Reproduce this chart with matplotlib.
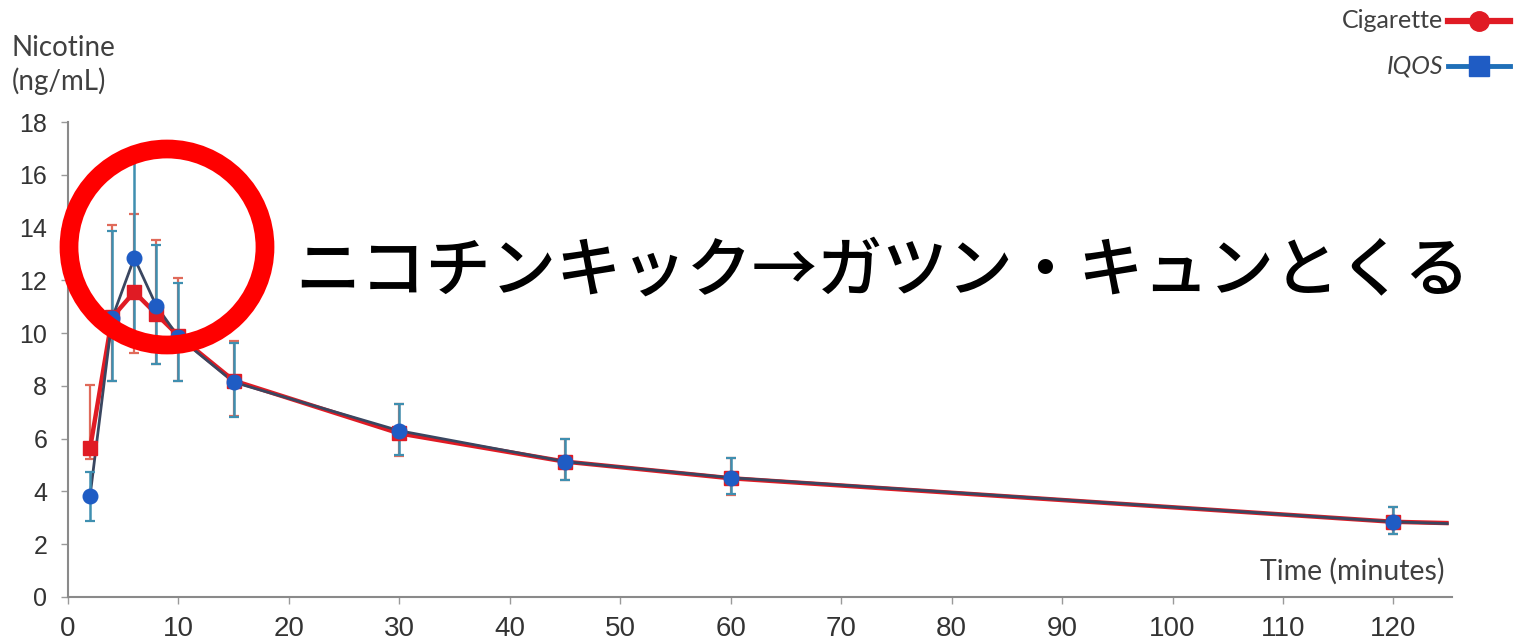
import matplotlib
matplotlib.use("Agg")
import matplotlib.pyplot as plt
from matplotlib.patches import Ellipse
from matplotlib.lines import Line2D

# Plasma nicotine concentration (ng/mL) after use, by sampling time (minutes)
time_min = [2, 4, 6, 8, 10, 15, 30, 45, 60, 120]

cig_mean = [5.63, 10.6, 11.56, 10.72, 9.9, 8.2, 6.2, 5.13, 4.5, 2.85]
cig_err_lo = [0.4, 2.4, 2.3, 1.9, 1.7, 1.35, 0.85, 0.68, 0.62, 0.45]
cig_err_hi = [2.4, 3.5, 2.95, 2.8, 2.2, 1.5, 1.1, 0.84, 0.78, 0.57]

iqos_mean = [3.84, 10.57, 12.85, 11.03, 9.85, 8.14, 6.3, 5.13, 4.52, 2.85]
iqos_err_lo = [0.95, 2.4, 2.9, 2.2, 1.65, 1.3, 0.9, 0.68, 0.62, 0.45]
iqos_err_hi = [0.9, 3.3, 3.75, 2.3, 2.05, 1.5, 1.0, 0.84, 0.76, 0.57]

# Both curves are carried on a little past the last sample
tail_time = 125
cig_tail = 2.8
iqos_tail = 2.78

x_ticks = list(range(0, 121, 10))
y_ticks = list(range(0, 19, 2))

series_names = ["Cigarette", "IQOS"]
x_label = "Time (minutes)"
headline = "ニコチンキック→ガツン・キュンとくる"

RED = "#e01b24"
BLUE = "#1f5cc4"
DARK = "#3a4660"
TEAL = "#3f8fb0"
GRAY = "#404040"

W, H, DPI = 1519, 640, 100
fig = plt.figure(figsize=(W / DPI, H / DPI), dpi=DPI)
fig.patch.set_facecolor("white")
ax = fig.add_axes([68 / W, 1 - 597 / H, (1452 - 68) / W, (597 - 122) / H])

# Cigarette: red line with red squares
ax.plot(time_min + [tail_time], cig_mean + [cig_tail], color=RED, lw=3.2,
        zorder=3, solid_capstyle="butt")
ax.errorbar(time_min, cig_mean, yerr=[cig_err_lo, cig_err_hi], fmt="none",
            ecolor="#e06a5a", elinewidth=1.6, capsize=3.5, capthick=1.6,
            zorder=2)
ax.plot(time_min, cig_mean, ls="none", marker="s", ms=10, color=RED,
        mec=RED, zorder=5)

# IQOS: dark line with blue circles
ax.plot(time_min + [tail_time], iqos_mean + [iqos_tail], color=DARK, lw=2.0,
        zorder=4, solid_capstyle="butt")
ax.errorbar(time_min, iqos_mean, yerr=[iqos_err_lo, iqos_err_hi], fmt="none",
            ecolor=TEAL, elinewidth=1.8, capsize=3.5, capthick=1.6, zorder=4)
ax.plot(time_min, iqos_mean, ls="none", marker="o", ms=10.5, color=BLUE,
        mec=BLUE, zorder=6)

ax.set_xlim(0, 125.3)
ax.set_ylim(0, 18)
ax.set_xticks(x_ticks)
ax.set_yticks(y_ticks)
for side in ("top", "right"):
    ax.spines[side].set_visible(False)
for side in ("left", "bottom"):
    ax.spines[side].set_color("#8a8a8a")
    ax.spines[side].set_linewidth(1.5)
ax.tick_params(axis="both", colors="#9a9a9a", length=5, width=1,
               labelcolor="#333333")
ax.tick_params(axis="y", pad=10, labelsize=18)
ax.tick_params(axis="x", pad=9, labelsize=20)
for lab in ax.get_xticklabels() + ax.get_yticklabels():
    lab.set_family("Liberation Sans")

fig.text(12 / W, 1 - 48 / H, "Nicotine", ha="left", va="center",
         fontsize=20, color=GRAY, family="Lato")
fig.text(12 / W, 1 - 81 / H, "(ng/mL)", ha="left", va="center",
         fontsize=20, color=GRAY, family="Lato")
fig.text(1445 / W, 1 - 571 / H, x_label, ha="right", va="center",
         fontsize=20.5, color=GRAY, family="Lato")

# Legend drawn at the top right
fig.text(1443 / W, 1 - 21 / H, series_names[0], ha="right", va="center",
         fontsize=18, color=GRAY, family="Lato")
fig.text(1443 / W, 1 - 66 / H, series_names[1], ha="right", va="center",
         fontsize=18, color=GRAY, family="Lato", style="italic")
fig.add_artist(Line2D([1448 / W, 1510 / W], [1 - 21 / H, 1 - 21 / H],
                      transform=fig.transFigure, color=RED, lw=4.5))
fig.add_artist(Line2D([1479 / W], [1 - 21 / H], transform=fig.transFigure,
                      ls="none", marker="o", ms=14, color=RED))
fig.add_artist(Line2D([1448 / W, 1510 / W], [1 - 66 / H, 1 - 66 / H],
                      transform=fig.transFigure, color="#1f6fb8", lw=3.5))
fig.add_artist(Line2D([1479 / W], [1 - 66 / H], transform=fig.transFigure,
                      ls="none", marker="s", ms=14, color="#1f5cc4"))

# Highlight ring around the early peak
fig.add_artist(Ellipse((167 / W, 1 - 247 / H), 196 / W, 196 / H,
                       transform=fig.transFigure, fill=False,
                       edgecolor="#ff0000", lw=13.5, zorder=10))

fig.text(295 / W, 1 - 272 / H, headline, ha="left", va="center",
         fontsize=47, color="black", weight="medium",
         family=["Noto Sans CJK JP", "DejaVu Sans"], zorder=11)

fig.savefig("out.png", dpi=DPI, facecolor="white")
